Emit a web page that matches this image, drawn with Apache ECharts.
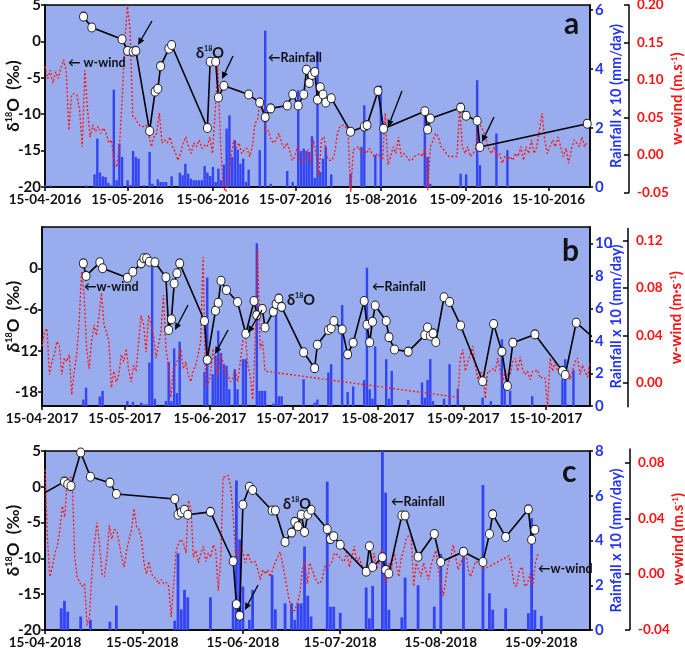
<!DOCTYPE html>
<html><head><meta charset="utf-8">
<script src="https://cdn.jsdelivr.net/npm/echarts@6/dist/echarts.min.js"></script>
<style>html,body{margin:0;padding:0;background:#fff}#c{width:685px;height:653px}</style>
</head><body><div id="c"></div>
<script>
// ---------------- DATA ----------------
// Panel a (2016)
const d18oA = [['2016-04-29',3.4],['2016-05-02',1.9],['2016-05-13',0.3],['2016-05-15',-1.3],['2016-05-17',-1.4],['2016-05-18',-1.3],['2016-05-23',-12.3],['2016-05-25',-6.9],['2016-05-26',-6.5],['2016-05-27',-3.4],['2016-05-30',-1.0],['2016-05-31',-0.5],['2016-06-13',-11.9],['2016-06-14',-2.8],['2016-06-16',-2.8],['2016-06-17',-7.7],['2016-06-19',-6.1],['2016-06-28',-7.3],['2016-07-02',-8.4],['2016-07-04',-10.4],['2016-07-06',-9.2],['2016-07-12',-8.8],['2016-07-14',-7.3],['2016-07-16',-8.8],['2016-07-18',-7.3],['2016-07-19',-3.9],['2016-07-20',-5.7],['2016-07-21',-4.6],['2016-07-22',-4.2],['2016-07-23',-8.0],['2016-07-24',-6.3],['2016-07-25',-7.3],['2016-07-26',-8.4],['2016-07-28',-7.8],['2016-08-04',-12.4],['2016-08-09',-11.7],['2016-08-10',-11.5],['2016-08-14',-6.8],['2016-08-16',-12.0],['2016-08-31',-9.6],['2016-09-01',-12.1],['2016-09-02',-10.6],['2016-09-13',-9.1],['2016-09-15',-10.2],['2016-09-19',-10.9],['2016-09-20',-14.5],['2016-10-29',-11.3]];
const rainA = [['2016-04-15',0.05],['2016-04-17',0.05],['2016-04-30',0.05],['2016-05-03',0.43],['2016-05-04',1.64],['2016-05-05',0.49],['2016-05-06',0.36],['2016-05-07',0.34],['2016-05-08',0.14],['2016-05-09',0.06],['2016-05-10',3.3],['2016-05-11',0.23],['2016-05-12',1.47],['2016-05-13',1.02],['2016-05-15',0.23],['2016-05-16',0.06],['2016-05-17',1.22],['2016-05-18',1.02],['2016-05-19',0.96],['2016-05-21',0.06],['2016-05-23',1.19],['2016-05-24',0.11],['2016-05-26',0.26],['2016-05-27',0.17],['2016-05-28',0.17],['2016-05-29',0.17],['2016-05-31',0.36],['2016-06-03',0.48],['2016-06-04',0.4],['2016-06-05',0.79],['2016-06-06',0.45],['2016-06-07',0.28],['2016-06-08',0.23],['2016-06-09',0.23],['2016-06-10',0.23],['2016-06-11',0.23],['2016-06-12',0.71],['2016-06-13',0.49],['2016-06-14',0.37],['2016-06-15',0.68],['2016-06-16',0.17],['2016-06-17',0.62],['2016-06-18',0.23],['2016-06-19',0.76],['2016-06-20',1.98],['2016-06-21',2.43],['2016-06-22',1.02],['2016-06-23',1.58],['2016-06-24',1.27],['2016-06-25',0.79],['2016-06-26',0.96],['2016-06-27',0.17],['2016-06-28',0.59],['2016-07-02',1.25],['2016-07-04',5.3],['2016-07-06',0.11],['2016-07-12',0.54],['2016-07-14',0.17],['2016-07-16',3.28],['2016-07-17',1.22],['2016-07-18',1.3],['2016-07-19',1.22],['2016-07-20',1.19],['2016-07-21',1.72],['2016-07-22',0.31],['2016-07-23',4.6],['2016-07-24',0.51],['2016-07-25',0.96],['2016-07-26',1.36],['2016-07-28',0.43],['2016-08-04',0.45],['2016-08-08',1.36],['2016-08-09',2.77],['2016-08-13',1.08],['2016-08-15',3.45],['2016-08-31',2.66],['2016-09-01',1.02],['2016-09-02',0.11],['2016-09-13',0.45],['2016-09-15',0.43],['2016-09-19',3.62],['2016-09-20',0.74],['2016-09-26',1.81],['2016-09-30',1.25]];
const windAStart = '2016-04-15', windAEnd = '2016-10-29';
const windA = [0.118,0.102,0.113,0.096,0.111,0.102,0.116,0.127,0.111,0.033,0.080,0.082,0.080,0.060,0.011,0.113,0.060,0.024,0.040,0.031,0.038,0.029,0.036,0.029,0.016,0.020,-0.007,-0.016,0.011,0.073,0.149,0.198,0.167,0.051,0.049,0.042,0.038,0.038,0.040,0.029,0.011,0.024,0.029,0.056,0.016,0.020,0.016,0.024,0.011,0.004,-0.007,0.002,0.016,0.024,0.011,0.002,0.016,0.011,0.020,0.009,0.013,0.011,0.024,0.002,0.056,0.118,0.020,-0.042,-0.049,-0.033,-0.002,0.020,0.009,0.016,0.002,0.007,0.009,-0.002,0.011,0.042,0.047,0.078,0.060,0.029,0.033,0.020,0.016,0.020,0.029,0.016,0.009,0.016,0.007,-0.007,-0.002,0.011,-0.007,-0.011,-0.004,0.007,-0.011,0.020,0.002,-0.029,0.020,0.024,-0.002,-0.007,-0.007,0.002,0.029,0.038,0.040,0.038,0.031,-0.049,0.007,0.009,0.011,0.002,0.007,0.002,0.009,0.002,-0.002,0.002,-0.002,-0.007,0.056,-0.013,-0.002,0.011,0.002,0.024,-0.002,0.002,-0.002,-0.007,-0.007,-0.002,0,0.002,-0.002,0.011,-0.047,0.011,0.020,0.029,0.024,0.011,0.007,0.002,-0.002,-0.002,-0.002,-0.002,0.064,0.011,0.002,0.011,-0.002,0.002,0.007,0.047,0.038,0.031,0.020,0.007,0.002,0.011,-0.002,0.002,-0.011,-0.002,-0.007,-0.002,-0.007,0.002,-0.002,0.011,-0.007,0.011,0.002,0.020,0.002,0.011,0.033,0.056,0.020,0.002,0.011,0.020,0.011,0.024,0.011,-0.002,0.009,-0.011,0.007,0.020,0.016,0.011,0.024,0.011,0.018];

// Panel b (2017)
const d18oB = [['2017-04-30',0.72],['2017-05-01',-1.1],['2017-05-06',0.87],['2017-05-07',0],['2017-05-16',-1.36],['2017-05-18',-0.5],['2017-05-21',0.72],['2017-05-22',1.45],['2017-05-23',1.45],['2017-05-24',0.96],['2017-05-26',0.87],['2017-05-30',-1.31],['2017-05-31',-8.96],['2017-06-01',-7.4],['2017-06-02',-2.2],['2017-06-03',-0.73],['2017-06-04',0.72],['2017-06-13',-7.66],['2017-06-14',-13.3],['2017-06-17',-6.15],['2017-06-18',-5],['2017-06-19',-1.8],['2017-06-21',-3.15],['2017-06-25',-4.9],['2017-06-28',-9.5],['2017-07-01',-4.75],['2017-07-02',-6.8],['2017-07-04',-5.9],['2017-07-05',-8.6],['2017-07-08',-6.3],['2017-07-09',-5.2],['2017-07-10',-4.4],['2017-07-11',-5.6],['2017-07-19',-12.2],['2017-07-23',-14.5],['2017-07-24',-11.1],['2017-07-28',-8.96],['2017-07-29',-8.7],['2017-07-30',-7.66],['2017-08-02',-8.9],['2017-08-04',-12.5],['2017-08-06',-10.8],['2017-08-10',-4.75],['2017-08-11',-8.2],['2017-08-12',-10.75],['2017-08-13',-7.75],['2017-08-14',-5.4],['2017-08-18',-7.66],['2017-08-19',-10],['2017-08-21',-11.8],['2017-08-26',-12.1],['2017-09-01',-9.7],['2017-09-02',-8.6],['2017-09-03',-9.8],['2017-09-04',-9.45],['2017-09-05',-10.7],['2017-09-08',-4.2],['2017-09-10',-4.9],['2017-09-14',-8.3],['2017-09-22',-16.4],['2017-09-26',-8.1],['2017-09-29',-12.1],['2017-10-01',-17.1],['2017-10-03',-10.8],['2017-10-11',-9.6],['2017-10-21',-14.9],['2017-10-22',-15.5],['2017-10-26',-7.9],['2017-11-01',-10]];
const rainB = [['2017-04-30',0.4],['2017-05-01',1.13],['2017-05-06',0.58],['2017-05-07',0.93],['2017-05-16',0.3],['2017-05-18',0.25],['2017-05-21',0.2],['2017-05-22',0.1],['2017-05-23',0.1],['2017-05-24',2.67],['2017-05-25',8.7],['2017-05-26',0.45],['2017-05-30',0.3],['2017-05-31',2.7],['2017-06-01',0.3],['2017-06-02',3.54],['2017-06-03',0.8],['2017-06-04',3.95],['2017-06-13',2.1],['2017-06-14',7.9],['2017-06-16',1.95],['2017-06-17',3.1],['2017-06-18',4.63],['2017-06-19',3.25],['2017-06-20',2.57],['2017-06-21',2.47],['2017-06-22',1.03],['2017-06-24',2.26],['2017-06-25',1.03],['2017-06-27',2.88],['2017-06-28',2.88],['2017-07-02',10.0],['2017-07-03',0.93],['2017-07-04',0.93],['2017-07-05',0.93],['2017-07-08',0.15],['2017-07-09',5.76],['2017-07-10',0.6],['2017-07-11',0.6],['2017-07-19',1.65],['2017-07-23',0.2],['2017-07-24',0.4],['2017-07-28',2.06],['2017-07-29',2.57],['2017-08-02',6.2],['2017-08-04',0.86],['2017-08-06',1.2],['2017-08-10',1.6],['2017-08-11',8.5],['2017-08-12',1.03],['2017-08-13',0.45],['2017-08-14',3.66],['2017-08-18',2.88],['2017-08-19',0.45],['2017-08-20',2.16],['2017-08-26',0.37],['2017-08-31',1.44],['2017-09-01',0.51],['2017-09-02',1.6],['2017-09-03',2.88],['2017-09-04',0.3],['2017-09-08',0.45],['2017-09-10',2.57],['2017-09-13',1.07],['2017-09-22',0.51],['2017-09-25',0.3],['2017-09-29',4.1],['2017-09-30',1.23],['2017-10-02',0.93],['2017-10-10',0.6],['2017-10-21',1.65],['2017-10-22',2.88],['2017-10-25',2.2]];
const windB1Start = '2017-04-15', windB1End = '2017-07-05';
const windB1 = [0.031,0.043,0.046,0.007,0.018,0.024,0.035,0.031,0.007,0.021,0.018,0.024,-0.010,0.010,0.024,0.052,0.094,0.074,0.029,0.012,0.035,0.049,0.040,0.057,0.076,0.049,0.043,0.035,-0.004,0.010,0.001,0.007,0.024,0.018,0.029,0.010,0.001,0.015,0.010,0.035,0.057,0.049,0.026,0.057,0.049,0.040,0.021,0.032,0.043,0.074,0.029,0.015,-0.012,0.012,0.015,0.021,0.029,0.012,0.018,0.007,0.001,0.010,0.015,0.024,0.035,0.106,0.001,-0.002,0.007,0.029,0.015,0.007,0.024,0.018,0.007,0.007,0.001,0.004,0.010,0.001,0.018,0.035,0.043,0.015,0.007,-0.014,0.035,0.113,0.029,0.035,0.010];
const windB2Start = '2017-09-13', windB2End = '2017-10-31';
const windB2 = [-0.012,0.021,0.028,0.010,0.018,0.024,0.031,0.015,0.003,0.010,0.007,-0.013,0.010,0.010,0.012,0.010,0.021,0.010,0.001,0.010,0.007,0.007,0.018,0.021,0.010,0.022,0.011,0.007,0.010,0.003,0.010,0.010,0.011,0.004,0.005,0.004,-0.020,0.021,0.010,0.018,0.010,0.012,0.014,0.010,0.012,0.003,0.010,0.018,0.021,0.007,0.015,0.010,0.005,0.018];

// Panel c (2018)
const d18oC = [['2018-04-13',-1.3],['2018-04-21',0.72],['2018-04-22',0.35],['2018-04-23',0.1],['2018-04-26',4.8],['2018-04-29',1.4],['2018-05-05',0.58],['2018-05-07',-1.0],['2018-05-25',-1.7],['2018-05-26',-3.9],['2018-05-27',-3.6],['2018-05-28',-3.2],['2018-05-29',-3.9],['2018-06-05',-3.5],['2018-06-12',-10.4],['2018-06-13',-16.4],['2018-06-14',-18.0],['2018-06-15',-2.5],['2018-06-17',0],['2018-06-18',-0.45],['2018-06-24',-3.3],['2018-06-25',-3.3],['2018-06-28',-7.7],['2018-06-30',-6.4],['2018-07-01',-4.9],['2018-07-02',-5.5],['2018-07-03',-3.9],['2018-07-04',-6.3],['2018-07-05',-3.9],['2018-07-06',-3.2],['2018-07-11',-5.9],['2018-07-12',-7.3],['2018-07-13',-6.9],['2018-07-15',-8.1],['2018-07-23',-11.85],['2018-07-24',-8.3],['2018-07-25',-11.2],['2018-07-28',-9.85],['2018-07-29',-11.6],['2018-07-30',-12.1],['2018-08-03',-4.0],['2018-08-04',-4.0],['2018-08-08',-9.76],['2018-08-13',-6.6],['2018-08-15',-10.5],['2018-08-22',-9.06],['2018-08-28',-10.5],['2018-08-30',-6.6],['2018-08-31',-3.85],['2018-09-04',-7.0],['2018-09-11',-3.15],['2018-09-12',-7.4],['2018-09-13',-6.0]];
const rainC = [['2018-04-20',0.97],['2018-04-21',1.3],['2018-04-22',0.82],['2018-04-26',0.6],['2018-04-29',0.45],['2018-05-05',0.37],['2018-05-07',1.09],['2018-05-25',0.42],['2018-05-26',3.43],['2018-05-27',0.92],['2018-05-28',1.79],['2018-05-29',1.46],['2018-06-05',1.46],['2018-06-12',1.27],['2018-06-13',6.68],['2018-06-14',4.05],['2018-06-15',1.94],['2018-06-17',0.45],['2018-06-18',1.79],['2018-06-24',2.46],['2018-06-25',0.92],['2018-06-28',1.19],['2018-06-30',1.19],['2018-07-01',0.45],['2018-07-02',1.19],['2018-07-03',1.19],['2018-07-04',3.73],['2018-07-05',1.53],['2018-07-06',0.6],['2018-07-11',6.63],['2018-07-12',1.04],['2018-07-13',1.04],['2018-07-15',0.77],['2018-07-23',1.9],['2018-07-24',0.52],['2018-07-25',1.97],['2018-07-28',8.0],['2018-07-29',6.14],['2018-07-30',0.9],['2018-08-03',0.57],['2018-08-04',2.34],['2018-08-08',2.0],['2018-08-13',1.04],['2018-08-15',3.4],['2018-08-22',3.35],['2018-08-28',6.48],['2018-08-30',1.64],['2018-08-31',0.9],['2018-09-04',0.97],['2018-09-11',0.75],['2018-09-12',5.0],['2018-09-13',0.9],['2018-09-15',0.63]];
const windC1Start = '2018-04-15', windC1End = '2018-08-28';
const windC1 = [0.075,0.025,-0.002,0.005,0.015,0.020,0.032,0.049,0.041,0.068,0.070,0.069,0.012,-0.002,-0.006,-0.009,-0.007,-0.037,-0.031,0.003,0.022,0.037,0.022,0.0,-0.002,0.012,0.035,0.025,0.032,0.031,0.022,0.012,0.005,0.017,0.025,0.032,0.047,0.034,0.032,0.025,0.008,0.0,0.009,0.0,-0.002,-0.004,-0.007,-0.004,-0.007,-0.006,-0.009,-0.031,-0.007,0.017,0.022,0.025,0.022,0.015,0.053,0.046,0.012,0.017,0.008,0.015,0.020,0.009,0.015,0.012,0.021,0.017,-0.012,0.010,0.070,0.070,0.071,0.063,0.044,0.015,0.012,0.020,0.015,0.008,0.015,0.009,0.008,0.009,0.003,-0.004,0.003,0.0,0.003,-0.002,0.003,0.008,0.012,0.016,0.008,-0.002,-0.012,-0.021,-0.027,-0.026,-0.021,-0.014,0.003,0.009,-0.007,0.008,0.003,-0.002,-0.006,-0.007,-0.004,0.005,0.008,0.006,0.009,0.015,0.014,0.012,0.010,0.009,0.017,0.005,0.012,0.020,0.008,0.012,0.006,0.005,0.0,0.003,0.005,0.015,0.003,0.008,0.018,0.003,-0.007,0.008,0.003,0.016,0.008,-0.002,0.012,0.017,0.025,0.028,0.027,-0.009,0.008,0.003,-0.002,0.008,0.002,-0.004,0.006,0.012,0.017,0.003,-0.007,-0.016,-0.004,0.008,0.012,0.021,0.012,0.003,0.008,0.012,0.017,0.003,-0.002,0.003,0.009,0.008,0.010,0.003];
const windC2Start = '2018-09-05', windC2End = '2018-09-14';
const windC2 = [0.013,0.005,-0.008,-0.009,0.003,0.005,-0.009,-0.007,0.0,-0.009,0.008,0.015];

// axis ranges and tick labels
const xRangeA = ['2016-04-15','2016-10-30'], xTicksA = ['2016-04-15','2016-05-15','2016-06-15','2016-07-15','2016-08-15','2016-09-15','2016-10-15'];
const xRangeB = ['2017-04-15','2017-10-31'], xTicksB = ['2017-04-15','2017-05-15','2017-06-15','2017-07-15','2017-08-15','2017-09-15','2017-10-15'];
const xRangeC = ['2018-04-15','2018-09-30'], xTicksC = ['2018-04-15','2018-05-15','2018-06-15','2018-07-15','2018-08-15','2018-09-15'];
const dTicksA = [-20,-15,-10,-5,0,5], dTicksB = [-18,-12,-6,0], dTicksC = [-20,-15,-10,-5,0,5];
const rTicksA = [0,2,4,6], rTicksB = [0,2,4,6,8,10], rTicksC = [0,2,4,6,8];
const wTicksA = [-0.05,0,0.05,0.10,0.15,0.20], wTicksB = [0,0.04,0.08,0.12], wTicksC = [-0.04,0,0.04,0.08];

// ---------------- CHART ----------------
function ts(s){ return +new Date(s + 'T00:00:00'); }
function toTs(arr){ return arr.map(d=>[ts(d[0]), d[1]]); }
function spread(vals, s, e){ const a = ts(s), b = ts(e), n = vals.length; return vals.map((v,i)=>[a + (b-a)*i/(n-1), v]); }
function pad(n){ return (n<10?'0':'')+n; }
function fmtDate(v){ const d = new Date(v); return pad(d.getDate())+'-'+pad(d.getMonth()+1)+'-'+d.getFullYear(); }

const FONT = 'Lato';
const BG = '#98acee';
const BAR = '#3344f2';

const panels = [
  {grid:{left:45,top:5,width:545,height:182}, wgrid:{top:5,height:187.5}, woff:39,
   xr:xRangeA, xt:xTicksA, dmin:-20, dmax:5, dt:dTicksA, rmax:6.17, rt:rTicksA, wmin:-0.05, wmax:0.2, wt:wTicksA,
   d18o:d18oA, rain:rainA, wind:spread(windA,windAStart,windAEnd), wunit:'m.s', bw:2.4},
  {grid:{left:42,top:227,width:548,height:179}, wgrid:{top:228.6,height:178.2}, woff:38,
   xr:xRangeB, xt:xTicksB, dmin:-20, dmax:6, dt:dTicksB, rmax:11, rt:rTicksB, wmin:-0.02, wmax:0.13, wt:wTicksB,
   d18o:d18oB, rain:rainB, wind:[...spread(windB1,windB1Start,windB1End), ...spread(windB2,windB2Start,windB2End)], wunit:'m·s', bw:2.4},
  {grid:{left:45,top:451,width:545,height:179}, wgrid:{top:449,height:180.5}, woff:40,
   xr:xRangeC, xt:xTicksC, dmin:-20, dmax:5, dt:dTicksC, rmax:8, rt:rTicksC, wmin:-0.04, wmax:0.09, wt:wTicksC,
   d18o:d18oC, rain:rainC, wind:[...spread(windC1,windC1Start,windC1End), ...spread(windC2,windC2Start,windC2End)], wunit:'m.s', bw:2.8}
];

const grid=[], xAxis=[], yAxis=[], series=[];
panels.forEach((p,i)=>{
  grid.push(Object.assign({show:true, backgroundColor:BG, borderColor:'#000', borderWidth:1.5, containLabel:false, outerBoundsMode:'none'}, p.grid));
  grid.push({left:p.grid.left, width:p.grid.width, top:p.wgrid.top, height:p.wgrid.height, show:false, containLabel:false, outerBoundsMode:'none'});
  const gi = 2*i;
  const xt = p.xt.map(ts);
  xAxis.push({type:'value', gridIndex:gi, min:ts(p.xr[0]), max:ts(p.xr[1]),
    axisLine:{show:true, onZero:false, lineStyle:{color:'#000', width:1.5}},
    axisTick:{show:true, length:4, lineStyle:{color:'#000', width:1.5}, customValues:xt},
    axisLabel:{customValues:xt, formatter:(v)=>fmtDate(v), color:'#111', fontFamily:FONT, fontWeight:'bold', fontSize:13.5, margin:6},
    splitLine:{show:false}});
  xAxis.push({type:'value', gridIndex:gi+1, min:ts(p.xr[0]), max:ts(p.xr[1]), show:false, splitLine:{show:false}});
  const yd = yAxis.length;
  yAxis.push({type:'value', gridIndex:gi, position:'left', min:p.dmin, max:p.dmax,
    axisLine:{show:true, onZero:false, lineStyle:{color:'#000', width:1.5}},
    axisTick:{show:true, length:4, lineStyle:{color:'#000', width:1.5}, customValues:p.dt},
    axisLabel:{customValues:p.dt, color:'#111', fontFamily:FONT, fontWeight:'bold', fontSize:15, margin:4},
    splitLine:{show:false},
    name:'{t|δ}{s|18}{t|O  (‰)}', nameLocation:'middle', nameRotate:90, nameGap:p.grid.left-22, nameMoveOverlap:false,
    nameTextStyle:{rich:{t:{fontFamily:FONT, fontWeight:'bold', fontSize:17, color:'#111'}, s:{fontFamily:FONT, fontWeight:'bold', fontSize:9, color:'#111', verticalAlign:'top'}}}});
  const yr = yAxis.length;
  yAxis.push({type:'value', gridIndex:gi, position:'right', min:0, max:p.rmax,
    axisLine:{show:true, onZero:false, lineStyle:{color:'#000', width:1.5}},
    axisTick:{show:true, length:3, lineStyle:{color:'#000', width:1.5}, customValues:p.rt},
    axisLabel:{customValues:p.rt, color:'#2233ff', fontFamily:FONT, fontWeight:'bold', fontSize:15, margin:5},
    splitLine:{show:false},
    name:'Rainfall x 10 (mm/day)', nameLocation:'middle', nameRotate:90, nameGap:19, nameMoveOverlap:false,
    nameTextStyle:{color:'#2233ff', fontFamily:FONT, fontWeight:'bold', fontSize:14.5}});
  const yw = yAxis.length;
  yAxis.push({type:'value', gridIndex:gi+1, position:'right', offset:p.woff, min:p.wmin, max:p.wmax,
    axisLine:{show:true, onZero:false, lineStyle:{color:'#000', width:1.5}},
    axisTick:{show:true, inside:true, length:5, lineStyle:{color:'#000', width:1.5}, customValues:p.wt},
    axisLabel:{customValues:p.wt, formatter:(v)=>v.toFixed(2), color:'#ff1111', fontFamily:FONT, fontWeight:'bold', fontSize:13.5, margin:8},
    splitLine:{show:false},
    name:'{t|w-wind ('+p.wunit+'}{s|-1}{t|)}', nameLocation:'middle', nameRotate:90, nameGap:41, nameMoveOverlap:false,
    nameTextStyle:{rich:{t:{color:'#ff1111', fontFamily:FONT, fontWeight:'bold', fontSize:15}, s:{color:'#ff1111', fontFamily:FONT, fontWeight:'bold', fontSize:8, verticalAlign:'top'}}}});
  series.push({type:'bar', xAxisIndex:gi, yAxisIndex:yr, data:toTs(p.rain), barWidth:p.bw, itemStyle:{color:BAR}, z:2, silent:true});
  series.push({type:'line', xAxisIndex:gi+1, yAxisIndex:yw, data:p.wind, symbol:'none', lineStyle:{color:'#ff1a1a', width:1.4, type:[2,2]}, z:3, silent:true});
  series.push({type:'line', xAxisIndex:gi, yAxisIndex:yd, data:toTs(p.d18o), symbol:'circle', symbolSize:[8,9],
    itemStyle:{color:'#fff', borderColor:'#222', borderWidth:1}, lineStyle:{color:'#000', width:1.6}, z:4, silent:true});
});

// annotations
function arrow(x1,y1,x2,y2){
  const a=Math.atan2(y2-y1,x2-x1), L=7, W=3.2;
  const bx=x2-L*Math.cos(a), by=y2-L*Math.sin(a), px=-Math.sin(a)*W, py=Math.cos(a)*W;
  return [{type:'line', shape:{x1,y1,x2:bx,y2:by}, style:{stroke:'#000', lineWidth:1.3}, z:100},
          {type:'polygon', shape:{points:[[x2,y2],[bx+px,by+py],[bx-px,by-py]]}, style:{fill:'#000'}, z:100}];
}
function label(x,y,t,size){ return {type:'text', x, y, style:{text:t, fill:'#111', font:'bold '+(size||12.5)+'px '+FONT, verticalAlign:'middle'}, z:100}; }
function dlabel(x,y){ return {type:'text', x, y, style:{text:'{t|δ}{s|18}{t|O}', verticalAlign:'middle', rich:{t:{fontFamily:FONT, fontWeight:'bold', fontSize:14.5, fill:'#111'}, s:{fontFamily:FONT, fontWeight:'bold', fontSize:7, fill:'#111', verticalAlign:'top'}}}, z:100}; }
const graphic = [
  label(68,63,'← w-wind'), dlabel(196,53), label(268,58,'←Rainfall'), label(564,24,'a',30),
  ...arrow(152,21,138,45), ...arrow(233,56,222,79), ...arrow(402,91,388,127), ...arrow(494,117,482,142),
  label(84,287,'←w-wind'), dlabel(287,300), label(372,287,'←Rainfall'), label(562,251,'b',30),
  ...arrow(188,305,175,330), ...arrow(228,330,215,354), ...arrow(262,310,248,333),
  dlabel(283,504), label(391,502,'←Rainfall'), label(538,569,'←w-wind'), label(562,472,'c',30),
  ...arrow(258,585,245,610)
];

const chart = echarts.init(document.getElementById('c'), null, {renderer:'canvas'});
chart.setOption({animation:false, backgroundColor:'#fff', grid, xAxis, yAxis, series, graphic});
</script>
</body></html>
